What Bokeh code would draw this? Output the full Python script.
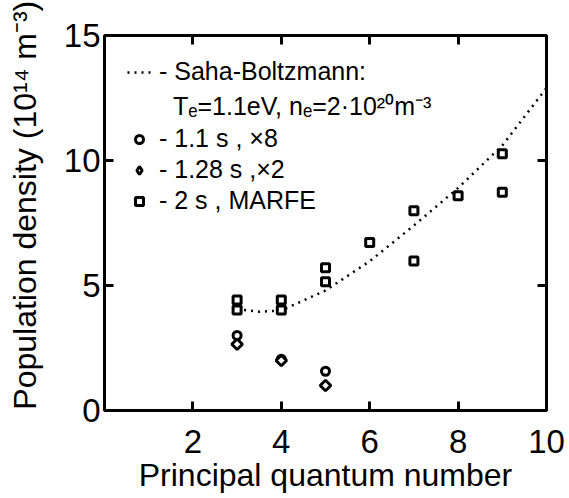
import math
from bokeh.plotting import figure
from bokeh.models import FixedTicker, LinearAxis, Legend, LegendItem
from bokeh.embed import file_html
from bokeh.resources import INLINE

# ---- data ----
saha_n = [3, 3.5, 4, 5, 6, 7, 8, 9, 10]
saha_density = [4.05, 3.95, 4.0, 4.8, 5.97, 7.4, 8.9, 10.6, 12.9]

n_11s = [3, 4, 5]
dens_11s = [3.0, 2.05, 1.57]

n_128s = [3, 4, 5]
dens_128s = [2.65, 2.0, 1.0]

n_2s = [3, 3, 4, 4, 5, 5, 6, 7, 7, 8, 9, 9]
dens_2s = [4.42, 4.02, 4.42, 4.02, 5.71, 5.15, 6.72, 7.99, 5.98, 8.59, 10.27, 8.73]

x_ticks = [2, 4, 6, 8, 10]
y_ticks = [0, 5, 10, 15]
top_ticks = [2, 4, 6, 8]
right_ticks = [5, 10]

legend_labels = [
    "- Saha-Boltzmann:",
    "\u00a0\u00a0T\u2091=1.1eV, n\u2091=2\u00b710\u00b2\u2070m\u207b\u00b3",
    "- 1.1 s , \u00d78",
    "- 1.28 s ,\u00d72",
    "- 2 s , MARFE",
]

FONT = "Liberation Sans"

p = figure(width=569, height=498, x_range=(0, 10), y_range=(0, 15),
           output_backend="svg", toolbar_location=None,
           min_border_left=104, min_border_right=23,
           min_border_top=35, min_border_bottom=88)
p.xgrid.visible = False
p.ygrid.visible = False
p.background_fill_color = "white"
p.border_fill_color = "white"
p.outline_line_color = "black"
p.outline_line_width = 3

def style_axis(ax, ticks, show_labels):
    ax.ticker = FixedTicker(ticks=ticks)
    ax.axis_line_color = "black"
    ax.axis_line_width = 3
    ax.major_tick_line_color = "black"
    ax.major_tick_line_width = 3
    ax.major_tick_in = 9
    ax.major_tick_out = 0
    ax.minor_tick_line_color = None
    ax.major_label_text_font = FONT
    if show_labels:
        ax.major_label_text_font_size = "33px"
        ax.major_label_text_color = "black"
    else:
        ax.major_label_text_font_size = "1px"
        ax.major_label_text_color = None
        ax.major_label_standoff = 0
    ax.axis_label_text_font = FONT
    ax.axis_label_text_font_size = "32px"
    ax.axis_label_text_font_style = "normal"
    ax.axis_label_text_color = "black"

style_axis(p.xaxis[0], x_ticks, True)
p.xaxis[0].major_label_standoff = 19
p.xaxis[0].axis_label = "Principal quantum number"
p.xaxis[0].axis_label_standoff = 1

style_axis(p.yaxis[0], y_ticks, True)
p.yaxis[0].major_label_standoff = 4
# leading no-break spaces shift the (rotated) label upward, as in the reference
p.yaxis[0].axis_label = "\u00a0\u00a0\u00a0\u00a0Population density (10\u00b9\u2074 m\u207b\u00b3)"
p.yaxis[0].axis_label_standoff = 18

top = LinearAxis()
style_axis(top, top_ticks, False)
p.add_layout(top, "above")
right = LinearAxis()
style_axis(right, right_ticks, False)
p.add_layout(right, "right")

r_saha = p.line(saha_n, saha_density, line_color="black", line_width=2.5,
                line_dash="2 5")
r_dummy = p.line([], [], line_alpha=0)
r_c = p.scatter(n_11s, dens_11s, marker="circle", size=8, line_color="black",
                line_width=3, fill_color="white")
r_d = p.scatter(n_128s, dens_128s, marker="square", angle=math.pi / 4, size=7.5,
                line_color="black", line_width=3, fill_color="white")
# legend-only proxy for the rotated squares (legend glyphs are not rotated)
r_d_leg = p.scatter([math.nan], [math.nan], marker="diamond", size=13,
                    line_color="black", line_width=3, fill_color="white")
r_s = p.scatter(n_2s, dens_2s, marker="square", size=8, line_color="black",
                line_width=3, fill_color="white")

renderers = [r_saha, r_dummy, r_c, r_d_leg, r_s]
legend = Legend(items=[LegendItem(label=l, renderers=[r]) for l, r in zip(legend_labels, renderers)],
                location=(23, 195), margin=0, padding=0, spacing=2,
                glyph_width=24, glyph_height=20, label_standoff=8,
                label_text_font=FONT, label_text_font_size="25px",
                label_text_color="black",
                background_fill_alpha=0, border_line_color=None)
p.add_layout(legend)

open("out.html", "w").write(file_html(p, INLINE))
